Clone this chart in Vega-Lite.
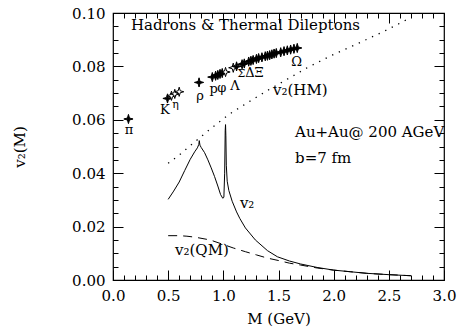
{
  "$schema": "https://vega.github.io/schema/vega-lite/v6.json",
  "width": 331,
  "height": 267,
  "autosize": {"type": "none"},
  "padding": {"left": 113, "top": 13, "right": 14, "bottom": 53},
  "background": "white",
  "config": {
    "view": {"stroke": "black", "strokeWidth": 1.2},
    "font": "DejaVu Serif",
    "axis": {
      "grid": false,
      "domain": false,
      "labelFont": "DejaVu Serif",
      "labelFontSize": 15,
      "labelColor": "black",
      "titleFont": "DejaVu Serif",
      "titleFontSize": 15,
      "titleFontWeight": "normal",
      "titleColor": "black",
      "tickColor": "black",
      "tickWidth": 1,
      "labelFlush": false,
      "labelOverlap": false
    }
  },
  "datasets": {
    "curves": [
      {"M": 0.50, "v2": 0.0302, "curve": "v2"},
      {"M": 0.55, "v2": 0.0333, "curve": "v2"},
      {"M": 0.60, "v2": 0.0367, "curve": "v2"},
      {"M": 0.65, "v2": 0.0410, "curve": "v2"},
      {"M": 0.70, "v2": 0.0452, "curve": "v2"},
      {"M": 0.74, "v2": 0.0480, "curve": "v2"},
      {"M": 0.765, "v2": 0.0495, "curve": "v2"},
      {"M": 0.778, "v2": 0.0508, "curve": "v2"},
      {"M": 0.782, "v2": 0.0522, "curve": "v2"},
      {"M": 0.788, "v2": 0.0505, "curve": "v2"},
      {"M": 0.80, "v2": 0.0496, "curve": "v2"},
      {"M": 0.83, "v2": 0.0477, "curve": "v2"},
      {"M": 0.86, "v2": 0.0450, "curve": "v2"},
      {"M": 0.89, "v2": 0.0420, "curve": "v2"},
      {"M": 0.92, "v2": 0.0388, "curve": "v2"},
      {"M": 0.95, "v2": 0.0352, "curve": "v2"},
      {"M": 0.975, "v2": 0.0320, "curve": "v2"},
      {"M": 0.995, "v2": 0.0306, "curve": "v2"},
      {"M": 1.005, "v2": 0.0310, "curve": "v2"},
      {"M": 1.012, "v2": 0.0400, "curve": "v2"},
      {"M": 1.017, "v2": 0.0560, "curve": "v2"},
      {"M": 1.020, "v2": 0.0582, "curve": "v2"},
      {"M": 1.023, "v2": 0.0540, "curve": "v2"},
      {"M": 1.027, "v2": 0.0430, "curve": "v2"},
      {"M": 1.035, "v2": 0.0370, "curve": "v2"},
      {"M": 1.05, "v2": 0.0335, "curve": "v2"},
      {"M": 1.08, "v2": 0.0295, "curve": "v2"},
      {"M": 1.12, "v2": 0.0255, "curve": "v2"},
      {"M": 1.15, "v2": 0.0230, "curve": "v2"},
      {"M": 1.20, "v2": 0.0195, "curve": "v2"},
      {"M": 1.29, "v2": 0.0150, "curve": "v2"},
      {"M": 1.40, "v2": 0.0110, "curve": "v2"},
      {"M": 1.49, "v2": 0.0087, "curve": "v2"},
      {"M": 1.60, "v2": 0.0071, "curve": "v2"},
      {"M": 1.70, "v2": 0.0060, "curve": "v2"},
      {"M": 1.85, "v2": 0.0047, "curve": "v2"},
      {"M": 2.00, "v2": 0.0037, "curve": "v2"},
      {"M": 2.15, "v2": 0.0031, "curve": "v2"},
      {"M": 2.30, "v2": 0.0025, "curve": "v2"},
      {"M": 2.50, "v2": 0.0020, "curve": "v2"},
      {"M": 2.70, "v2": 0.0016, "curve": "v2"},
      {"M": 0.50, "v2": 0.0166, "curve": "QM"},
      {"M": 0.60, "v2": 0.0166, "curve": "QM"},
      {"M": 0.67, "v2": 0.0164, "curve": "QM"},
      {"M": 0.75, "v2": 0.0160, "curve": "QM"},
      {"M": 0.88, "v2": 0.0150, "curve": "QM"},
      {"M": 1.00, "v2": 0.0133, "curve": "QM"},
      {"M": 1.09, "v2": 0.0120, "curve": "QM"},
      {"M": 1.20, "v2": 0.0106, "curve": "QM"},
      {"M": 1.30, "v2": 0.0094, "curve": "QM"},
      {"M": 1.40, "v2": 0.0082, "curve": "QM"},
      {"M": 1.51, "v2": 0.0072, "curve": "QM"},
      {"M": 1.60, "v2": 0.0063, "curve": "QM"},
      {"M": 1.70, "v2": 0.0056, "curve": "QM"},
      {"M": 1.85, "v2": 0.0045, "curve": "QM"},
      {"M": 2.00, "v2": 0.0037, "curve": "QM"},
      {"M": 2.15, "v2": 0.0031, "curve": "QM"},
      {"M": 2.30, "v2": 0.0025, "curve": "QM"},
      {"M": 2.50, "v2": 0.0020, "curve": "QM"},
      {"M": 2.70, "v2": 0.0016, "curve": "QM"},
      {"M": 0.50, "v2": 0.0437, "curve": "HM"},
      {"M": 0.60, "v2": 0.0468, "curve": "HM"},
      {"M": 0.72, "v2": 0.0510, "curve": "HM"},
      {"M": 0.88, "v2": 0.0565, "curve": "HM"},
      {"M": 1.05, "v2": 0.0620, "curve": "HM"},
      {"M": 1.25, "v2": 0.0672, "curve": "HM"},
      {"M": 1.40, "v2": 0.0710, "curve": "HM"},
      {"M": 1.55, "v2": 0.0745, "curve": "HM"},
      {"M": 1.76, "v2": 0.0795, "curve": "HM"},
      {"M": 2.00, "v2": 0.0845, "curve": "HM"},
      {"M": 2.20, "v2": 0.0882, "curve": "HM"},
      {"M": 2.45, "v2": 0.0930, "curve": "HM"},
      {"M": 2.69, "v2": 0.0981, "curve": "HM"}
    ],
    "hadrons": [
      {"M": 0.14, "v2": 0.0603, "kind": "filled"},
      {"M": 0.494, "v2": 0.0680, "kind": "filled"},
      {"M": 0.53, "v2": 0.0690, "kind": "open"},
      {"M": 0.56, "v2": 0.0697, "kind": "open"},
      {"M": 0.60, "v2": 0.0705, "kind": "open"},
      {"M": 0.78, "v2": 0.0740, "kind": "filled"},
      {"M": 0.90, "v2": 0.0760, "kind": "filled"},
      {"M": 0.93, "v2": 0.0765, "kind": "filled"},
      {"M": 0.95, "v2": 0.0768, "kind": "filled"},
      {"M": 0.97, "v2": 0.0772, "kind": "filled"},
      {"M": 0.99, "v2": 0.0775, "kind": "filled"},
      {"M": 1.02, "v2": 0.0779, "kind": "open"},
      {"M": 1.09, "v2": 0.0795, "kind": "open"},
      {"M": 1.12, "v2": 0.0800, "kind": "filled"},
      {"M": 1.17, "v2": 0.0808, "kind": "filled"},
      {"M": 1.19, "v2": 0.0811, "kind": "filled"},
      {"M": 1.23, "v2": 0.0818, "kind": "filled"},
      {"M": 1.25, "v2": 0.0821, "kind": "filled"},
      {"M": 1.27, "v2": 0.0824, "kind": "filled"},
      {"M": 1.30, "v2": 0.0828, "kind": "filled"},
      {"M": 1.32, "v2": 0.0831, "kind": "filled"},
      {"M": 1.35, "v2": 0.0834, "kind": "filled"},
      {"M": 1.38, "v2": 0.0838, "kind": "filled"},
      {"M": 1.40, "v2": 0.0840, "kind": "filled"},
      {"M": 1.42, "v2": 0.0842, "kind": "filled"},
      {"M": 1.44, "v2": 0.0845, "kind": "filled"},
      {"M": 1.46, "v2": 0.0848, "kind": "filled"},
      {"M": 1.48, "v2": 0.0850, "kind": "filled"},
      {"M": 1.52, "v2": 0.0853, "kind": "filled"},
      {"M": 1.55, "v2": 0.0857, "kind": "filled"},
      {"M": 1.58, "v2": 0.0860, "kind": "filled"},
      {"M": 1.61, "v2": 0.0863, "kind": "filled"},
      {"M": 1.64, "v2": 0.0866, "kind": "filled"},
      {"M": 1.67, "v2": 0.0869, "kind": "filled"}
    ],
    "notes": [
      {"M": 0.163, "v2": 0.0955, "text": "Hadrons & Thermal Dileptons", "group": "big"},
      {"M": 1.65, "v2": 0.0554, "text": "Au+Au@ 200 AGeV", "group": "big"},
      {"M": 1.65, "v2": 0.0457, "text": "b=7 fm", "group": "big"},
      {"M": 1.45, "v2": 0.0712, "text": "v₂(HM)", "group": "big"},
      {"M": 1.15, "v2": 0.0288, "text": "v₂", "group": "big"},
      {"M": 0.562, "v2": 0.0112, "text": "v₂(QM)", "group": "big"},
      {"M": 0.145, "v2": 0.0562, "text": "π", "group": "had"},
      {"M": 0.471, "v2": 0.0637, "text": "K", "group": "had"},
      {"M": 0.789, "v2": 0.0690, "text": "ρ", "group": "had"},
      {"M": 0.913, "v2": 0.0715, "text": "p", "group": "had"},
      {"M": 0.985, "v2": 0.0719, "text": "φ", "group": "had"},
      {"M": 1.106, "v2": 0.0727, "text": "Λ", "group": "had"},
      {"M": 1.24, "v2": 0.0777, "text": "Δ", "group": "had"},
      {"M": 1.325, "v2": 0.0777, "text": "Ξ", "group": "had"},
      {"M": 1.665, "v2": 0.0815, "text": "Ω", "group": "had"},
      {"M": 0.568, "v2": 0.0655, "text": "η", "group": "small"},
      {"M": 1.163, "v2": 0.0771, "text": "Σ", "group": "small"}
    ]
  },
  "resolve": {"axis": {"x": "independent", "y": "independent"}},
  "layer": [
    {
      "data": {"name": "curves"},
      "transform": [{"filter": "datum.curve === 'v2'"}],
      "mark": {"type": "line", "color": "black", "strokeWidth": 1},
      "encoding": {
        "x": {"field": "M", "type": "quantitative", "scale": {"domain": [0, 3], "nice": false},
          "axis": {"orient": "bottom", "values": [0, 0.5, 1, 1.5, 2, 2.5, 3], "format": ".1f", "offset": -10, "tickSize": 10, "labelPadding": 8, "title": "M (GeV)", "titlePadding": 8}},
        "y": {"field": "v2", "type": "quantitative", "scale": {"domain": [0, 0.1], "nice": false, "zero": true},
          "axis": {"orient": "left", "values": [0, 0.02, 0.04, 0.06, 0.08, 0.1], "format": ".2f", "offset": -10, "tickSize": 10, "labelPadding": 8, "title": "v₂(M)", "titlePadding": 44}}
      }
    },
    {
      "data": {"name": "curves"},
      "transform": [{"filter": "datum.curve === 'QM'"}],
      "mark": {"type": "line", "color": "black", "strokeWidth": 1, "strokeDash": [9, 6]},
      "encoding": {
        "x": {"field": "M", "type": "quantitative",
          "axis": {"orient": "top", "values": [0, 0.5, 1, 1.5, 2, 2.5, 3], "offset": -10, "tickSize": 10, "labels": false, "title": null}},
        "y": {"field": "v2", "type": "quantitative",
          "axis": {"orient": "right", "values": [0, 0.02, 0.04, 0.06, 0.08, 0.1], "offset": -10, "tickSize": 10, "labels": false, "title": null}}
      }
    },
    {
      "data": {"name": "curves"},
      "transform": [{"filter": "datum.curve === 'HM'"}],
      "mark": {"type": "line", "color": "black", "strokeWidth": 1.3, "strokeDash": [1.3, 6], "strokeCap": "butt"},
      "encoding": {
        "x": {"field": "M", "type": "quantitative",
          "axis": {"orient": "bottom", "values": [0.1, 0.2, 0.3, 0.4, 0.6, 0.7, 0.8, 0.9, 1.1, 1.2, 1.3, 1.4, 1.6, 1.7, 1.8, 1.9, 2.1, 2.2, 2.3, 2.4, 2.6, 2.7, 2.8, 2.9], "offset": -5, "tickSize": 5, "labels": false, "title": null}},
        "y": {"field": "v2", "type": "quantitative",
          "axis": {"orient": "left", "values": [0.005, 0.01, 0.015, 0.025, 0.03, 0.035, 0.045, 0.05, 0.055, 0.065, 0.07, 0.075, 0.085, 0.09, 0.095], "offset": -5, "tickSize": 5, "labels": false, "title": null}}
      }
    },
    {
      "data": {"name": "hadrons"},
      "mark": {"type": "point", "shape": "M0,-1L0.22,-0.22L1,0L0.22,0.22L0,1L-0.22,0.22L-1,0L-0.22,-0.22Z", "filled": true, "stroke": "black", "strokeWidth": 1, "size": 85, "opacity": 1},
      "encoding": {
        "x": {"field": "M", "type": "quantitative",
          "axis": {"orient": "top", "values": [0.1, 0.2, 0.3, 0.4, 0.6, 0.7, 0.8, 0.9, 1.1, 1.2, 1.3, 1.4, 1.6, 1.7, 1.8, 1.9, 2.1, 2.2, 2.3, 2.4, 2.6, 2.7, 2.8, 2.9], "offset": -5, "tickSize": 5, "labels": false, "title": null}},
        "y": {"field": "v2", "type": "quantitative",
          "axis": {"orient": "right", "values": [0.005, 0.01, 0.015, 0.025, 0.03, 0.035, 0.045, 0.05, 0.055, 0.065, 0.07, 0.075, 0.085, 0.09, 0.095], "offset": -5, "tickSize": 5, "labels": false, "title": null}},
        "fill": {"field": "kind", "type": "nominal", "scale": {"domain": ["filled", "open"], "range": ["black", "white"]}, "legend": null}
      }
    },
    {
      "data": {"name": "notes"},
      "transform": [{"filter": "datum.group === 'big'"}],
      "mark": {"type": "text", "align": "left", "baseline": "middle", "font": "DejaVu Serif", "fontSize": 15, "color": "black"},
      "encoding": {
        "x": {"field": "M", "type": "quantitative", "axis": null},
        "y": {"field": "v2", "type": "quantitative", "axis": null},
        "text": {"field": "text"}
      }
    },
    {
      "data": {"name": "notes"},
      "transform": [{"filter": "datum.group === 'had'"}],
      "mark": {"type": "text", "align": "center", "baseline": "middle", "font": "DejaVu Serif", "fontSize": 13, "color": "black"},
      "encoding": {
        "x": {"field": "M", "type": "quantitative", "axis": null},
        "y": {"field": "v2", "type": "quantitative", "axis": null},
        "text": {"field": "text"}
      }
    },
    {
      "data": {"name": "notes"},
      "transform": [{"filter": "datum.group === 'small'"}],
      "mark": {"type": "text", "align": "center", "baseline": "middle", "font": "DejaVu Serif", "fontSize": 11, "color": "black"},
      "encoding": {
        "x": {"field": "M", "type": "quantitative", "axis": null},
        "y": {"field": "v2", "type": "quantitative", "axis": null},
        "text": {"field": "text"}
      }
    }
  ]
}
